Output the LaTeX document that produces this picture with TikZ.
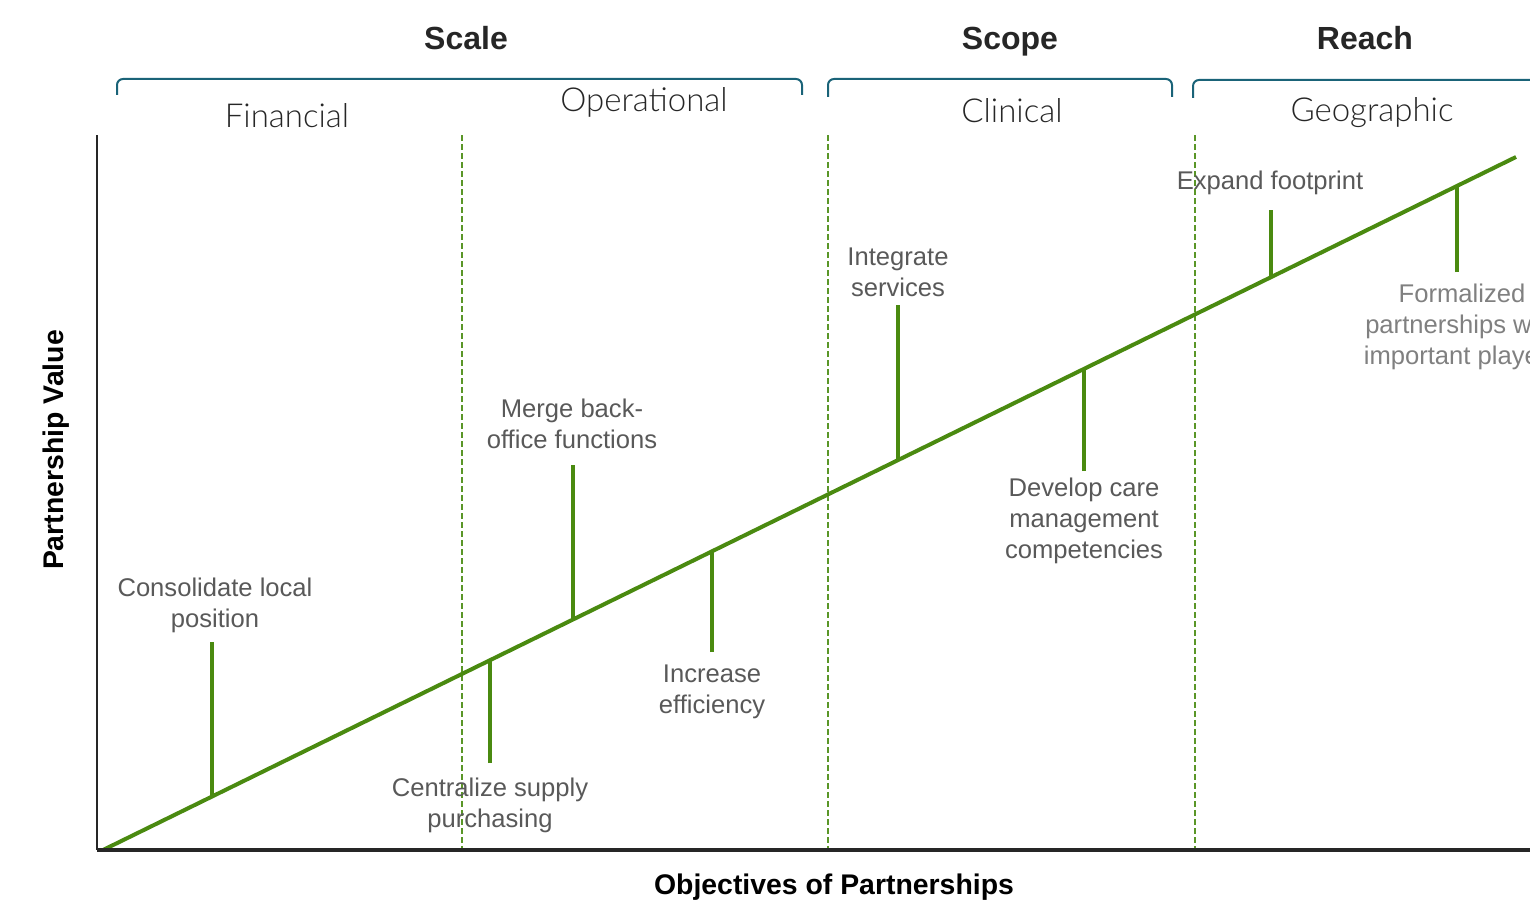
\documentclass[tikz,border=0pt]{standalone}
\usepackage{fontspec}
\setmainfont{Liberation Sans}
\newfontfamily\lightfont{Lato Light}
\definecolor{trendgreen}{RGB}{74,138,16}
\definecolor{dashgreen}{RGB}{90,150,40}
\definecolor{bracketteal}{RGB}{26,99,120}
\definecolor{labelgray}{RGB}{89,89,89}
\definecolor{palegray}{RGB}{128,128,128}
\definecolor{axisdark}{RGB}{38,38,38}
\begin{document}
\begin{tikzpicture}[x=0.5pt,y=-0.5pt,
    head/.style={font=\fontsize{16}{19}\bfseries\selectfont,text=axisdark,inner sep=0pt,anchor=base},
    area/.style={font=\lightfont\fontsize{16.5}{20}\selectfont,text=axisdark,inner sep=0pt,anchor=base},
    goal/.style={font=\fontsize{12.8}{15.5}\selectfont,text=labelgray,align=center,inner sep=0pt},
    axistitle/.style={font=\fontsize{14.2}{17}\bfseries\selectfont,text=black,inner sep=0pt},
    bracket/.style={draw=bracketteal,line width=1pt,rounded corners=3pt},
    divider/.style={draw=dashgreen,line width=0.75pt,dash pattern=on 3pt off 1.5pt},
    tick/.style={draw=trendgreen,line width=2pt}]
  \useasboundingbox (0,0) rectangle (1530,899);
  \clip (0,0) rectangle (1530,899);

  % headings and brackets
  \node[head] (scale) at (466,49.5) {Scale};
  \node[head] (scope) at (1010,49.5) {Scope};
  \node[head] (reach) at (1365,49.5) {Reach};
  \draw[bracket] (117,95) |- (802,79) -- (802,95);
  \draw[bracket] (828,97) |- (1172,79) -- (1172,97);
  \draw[bracket] (1193,98) |- (1545,80);
  \node[area] (fin) at (287,127) {Financial};
  \node[area] (ops) at (644,112) {Operational};
  \node[area] (clin) at (1012,123) {Clinical};
  \node[area] (geo) at (1372,121) {Geographic};

  % dividers
  \coordinate (d1t) at (462,135); \coordinate (d1b) at (462,850);
  \coordinate (d2t) at (828,135); \coordinate (d2b) at (828,850);
  \coordinate (d3t) at (1195,135); \coordinate (d3b) at (1195,850);
  \draw[divider] (d1t) -- (d1b);
  \draw[divider] (d2t) -- (d2b);
  \draw[divider] (d3t) -- (d3b);

  % trend line
  \coordinate (start) at (103,850);
  \coordinate (end) at (1516,157);
  \draw[draw=trendgreen,line width=2pt] (start) -- (end);

  % axes
  \coordinate (o) at (97,850);
  \coordinate (ytop) at (97,135);
  \coordinate (xend) at (1530,850);
  \draw[draw=axisdark,line width=1pt] (ytop) -- (o);
  \draw[draw=axisdark,line width=2pt] (o) -- (xend);
  \node[axistitle,rotate=90] (yt) at (56,450) {Partnership Value};
  \node[axistitle] (xt) at (834,887) {Objectives of Partnerships};

  % objectives along the line
  \node[goal] (0) at (215,605) {Consolidate local\\position};
  \node[goal] (1) at (490,805) {Centralize supply\\purchasing};
  \node[goal] (2) at (572,424) {Merge back-\\office functions};
  \node[goal] (3) at (712,692) {Increase\\efficiency};
  \node[goal] (4) at (898,272) {Integrate\\services};
  \node[goal] (5) at (1084,521) {Develop care\\management\\competencies};
  \node[goal] (6) at (1270,183) {Expand footprint};
  \node[goal,text=palegray] (7) at (1462,327) {Formalized\\partnerships with\\important players};

  \coordinate (0a) at (212,642);  \coordinate (0b) at (212,796.5);
  \coordinate (1a) at (490,763);  \coordinate (1b) at (490,660.2);
  \coordinate (2a) at (573,465);  \coordinate (2b) at (573,619.5);
  \coordinate (3a) at (712,652);  \coordinate (3b) at (712,551.3);
  \coordinate (4a) at (898,305);  \coordinate (4b) at (898,460.1);
  \coordinate (5a) at (1084,471); \coordinate (5b) at (1084,368.9);
  \coordinate (6a) at (1271,210); \coordinate (6b) at (1271,277.2);
  \coordinate (7a) at (1457,272); \coordinate (7b) at (1457,186);
  \begin{scope}[tick]
    \draw (0a) to (0b);
    \draw (1a) to (1b);
    \draw (2a) to (2b);
    \draw (3a) to (3b);
    \draw (4a) to (4b);
    \draw (5a) to (5b);
    \draw (6a) to (6b);
    \draw (7a) to (7b);
  \end{scope}
\end{tikzpicture}
\end{document}
